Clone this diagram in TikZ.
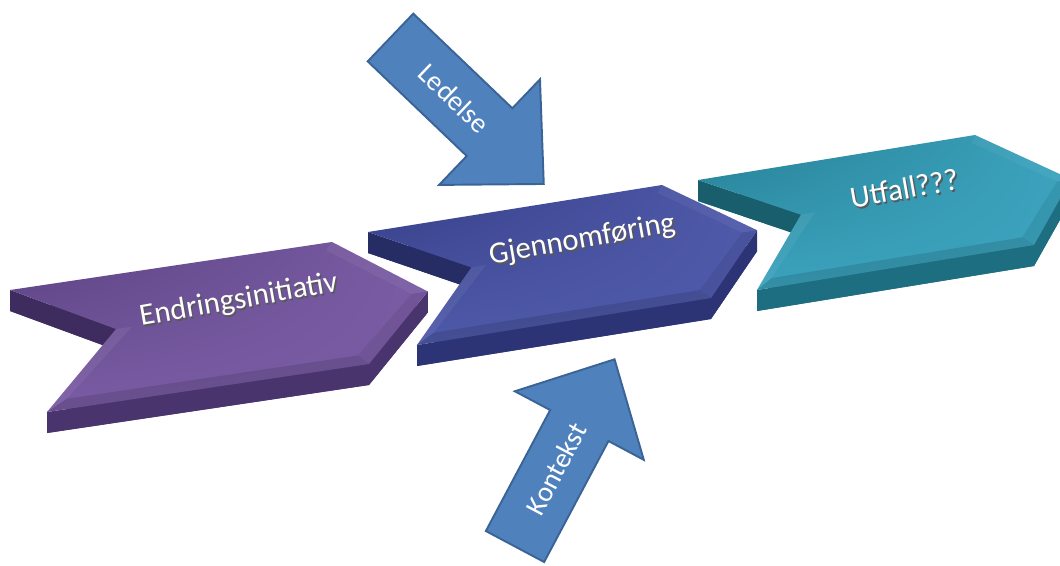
\documentclass[tikz,border=0pt]{standalone}
\usepackage{fontspec}
\setmainfont{Carlito}
\usetikzlibrary{shadings}
\definecolor{purpleTop}{HTML}{7A5CA4}
\definecolor{purpleBack}{HTML}{5A4282}
\definecolor{purpleSide}{HTML}{4A346E}
\definecolor{blueTop}{HTML}{4F5AAA}
\definecolor{blueBack}{HTML}{353D85}
\definecolor{blueSide}{HTML}{2D3476}
\definecolor{tealTop}{HTML}{3CA3BE}
\definecolor{tealBack}{HTML}{257E92}
\definecolor{tealSide}{HTML}{1C6E80}
\definecolor{arrowFill}{HTML}{4F81BD}
\definecolor{arrowLine}{HTML}{3A6496}
\tikzset{
  chevtext/.style={text=white,font=\fontsize{17.5}{20}\selectfont,rotate=10,inner sep=0pt},
  chevshadow/.style={chevtext,text=black!65},
  blockarrow/.style={fill=arrowFill,draw=arrowLine,line width=1.1pt,line join=miter},
  arrowtext/.style={text=white,font=\fontsize{16}{18}\selectfont,inner sep=0pt}
}
% #1 name, #2 back corner, #3 length vector, #4 width vector, #5 colour, #6 text
\newcommand{\chevron}[6]{%
 \coordinate (#1o) at (#2);
 \coordinate (#1u) at (#3);
 \coordinate (#1v) at (#4);
 \begin{scope}[x={(#1u)},y={(#1v)},shift={(#1o)}]
  \coordinate (#1a) at (0,0);
  \coordinate (#1b) at (1,0);
  \coordinate (#1c) at (1.24,0.5);
  \coordinate (#1d) at (1,1);
  \coordinate (#1e) at (0,1);
  \coordinate (#1f) at (0.28,0.43);
  % side faces
  \fill[#5Side] ([yshift=-0.42cm]#1a) -- ([yshift=-0.42cm]#1b) -- ([yshift=-0.42cm]#1c)
   -- ([yshift=-0.42cm]#1d) -- ([yshift=-0.42cm]#1e) -- ([yshift=-0.42cm]#1f) -- cycle;
  \fill[#5Side] (#1c) -- (#1d) -- (#1e) -- ([yshift=-0.42cm]#1e) -- ([yshift=-0.42cm]#1d)
   -- ([yshift=-0.42cm]#1c) -- cycle;
  \fill[#5Side!85!black] (#1f) -- (#1a) -- ([yshift=-0.42cm]#1a) -- ([yshift=-0.42cm]#1f) -- cycle;
  % top face
  \shade[upper left=#5Back,upper right=#5Top,lower left=#5Top,lower right=#5Top]
   (#1a) -- (#1b) -- (#1c) -- (#1d) -- (#1e) -- (#1f) -- cycle;
  % bevels
  \fill[black,opacity=.12] (#1e) -- (#1d) -- (0.975,0.92) -- (0.07,0.92) -- cycle;
  \fill[black,opacity=.07] (#1d) -- (#1c) -- (1.19,0.5) -- (0.975,0.92) -- cycle;
  \fill[white,opacity=.05] (#1c) -- (#1b) -- (0.975,0.06) -- (1.19,0.5) -- cycle;
  \fill[white,opacity=.06] (#1e) -- (#1f) -- (0.33,0.43) -- (0.07,0.92) -- cycle;
  \coordinate (#1t) at (0.67,0.35);
  \node[chevshadow] (#1shadow) at ([xshift=0.9pt,yshift=-1.1pt]#1t) {#6};
  \node[chevtext] (#1label) at (#1t) {#6};
 \end{scope}}
% #1 name, #2 tail middle, #3 angle, #4 text
\newcommand{\bluearrow}[4]{%
 \begin{scope}[shift={(#2)},rotate=#3]
  \draw[blockarrow] (0,-33) -- (137,-33) -- (137,-73) -- (212,0) -- (137,73)
   -- (137,33) -- (0,33) -- cycle;
  \node[arrowtext,rotate=#3] (#1) at (88,0) {#4};
 \end{scope}}

\begin{document}
\begin{tikzpicture}[x=0.02cm,y=-0.02cm]
  \clip (0,0) rectangle (1060,565);
  \chevron{utfall}{698,180}{277,-45}{59,110}{teal}{Utfall???}
  \chevron{gjen}{368,232}{294,-47}{49,113}{blue}{Gjennomføring}
  \chevron{endr}{10,290}{322,-48}{37,122}{purple}{Endringsinitiativ}
  \bluearrow{ledelse}{390.5,37.5}{-43.7}{Ledelse}
  \bluearrow{kontekst}{515,546.5}{62}{Kontekst}
\end{tikzpicture}
\end{document}
